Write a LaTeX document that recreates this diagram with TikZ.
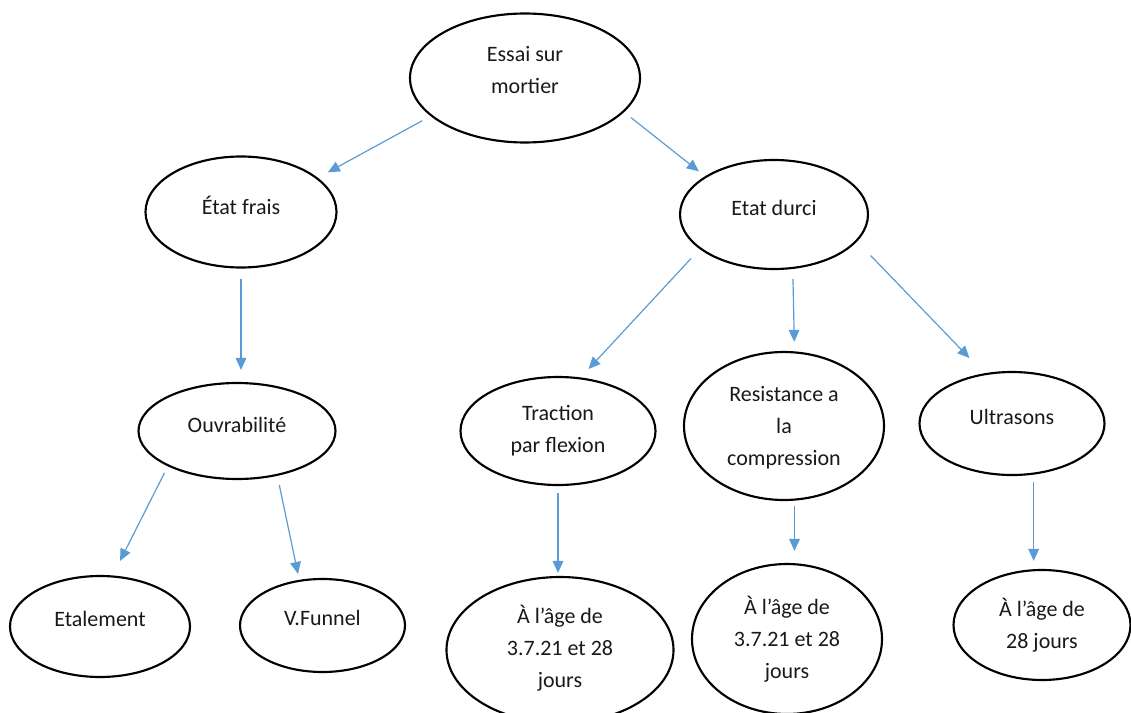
\documentclass[tikz,border=0pt]{standalone}
\usepackage{fontspec}
\setmainfont{Carlito}
\usepackage{tikz}
\usetikzlibrary{shapes, arrows.meta}
\definecolor{colorarrow}{HTML}{5B9BD5}
\tikzstyle{oval}=[draw, ellipse, line width=1.6pt, inner sep=0pt]
\tikzstyle{txt}=[font=\fontsize{16.5}{24}\selectfont, align=center, text=black!90]
\tikzstyle{link}=[-{Triangle[length=9pt, width=8pt]}, draw=colorarrow, line width=0.9pt]

\begin{document}
\begin{tikzpicture}[x=0.75pt, y=-0.75pt]
\useasboundingbox (0,0) rectangle (1131,713);

% root and the two states
\node[oval, minimum width=172.5pt, minimum height=96.75pt, label={[txt, yshift=6pt]center:Essai sur\\mortier}](essai) at (525,78){};
\node[oval, minimum width=143.25pt, minimum height=83.25pt, label={[txt, yshift=5pt]center:État frais}](frais) at (241,212){};
\node[oval, minimum width=141pt, minimum height=81.75pt, label={[txt, yshift=5pt]center:Etat durci}](durci) at (774,214.5){};

% fresh mortar
\node[oval, minimum width=147.75pt, minimum height=72pt, label={[txt, yshift=4.5pt]center:Ouvrabilité}](ouvr) at (237,431){};
\node[oval, minimum width=135pt, minimum height=75.75pt, label={[txt, yshift=6pt]center:Etalement}](etal) at (100,626.5){};
\node[oval, minimum width=123.75pt, minimum height=69.75pt, label={[txt, yshift=6pt]center:V.Funnel}](funnel) at (322.5,625.5){};

% hardened mortar
\node[oval, minimum width=146.25pt, minimum height=81pt, label={[txt, yshift=0pt]center:Traction\\par flexion}](traction) at (558,431){};
\node[oval, minimum width=150pt, minimum height=111pt, label={[txt, yshift=-1pt]center:Resistance a\\la\\compression}](resist) at (784,426){};
\node[oval, minimum width=138.75pt, minimum height=77.25pt, label={[txt, yshift=5pt]center:Ultrasons}](ultra) at (1012,423.5){};

\node[oval, minimum width=170.25pt, minimum height=109.5pt, label={[txt, yshift=1pt]center:À l’âge de\\3.7.21 et 28\\jours}](age1) at (560,650){};
\node[oval, minimum width=142.5pt, minimum height=112.5pt, label={[txt]center:À l’âge de\\3.7.21 et 28\\jours}](age2) at (787,639){};
\node[oval, minimum width=132.75pt, minimum height=82.5pt, label={[txt]center:À l’âge de\\28 jours}](age3) at (1042,625){};

\draw[link, shorten <=7.2pt, shorten >=8.5pt] (essai.202) -- (frais.24);
\draw[link, shorten <=6.6pt, shorten >=5.9pt] (essai.341) -- (durci.151);
\draw[link, shorten <=7.5pt, shorten >=9pt] (frais.south) -- (frais.south |- ouvr.north);
\draw[link, shorten <=5.5pt, shorten >=12.2pt] (ouvr.207) -- (etal.76);
\draw[link, shorten <=7pt, shorten >=4.5pt] (ouvr.-48) -- (funnel.117);

\draw[link, shorten <=9.5pt, shorten >=8.6pt] (durci.205) -- (traction.67);
\draw[link, shorten <=7.5pt, shorten >=7.1pt] (durci.-71) -- (resist.82);
\draw[link, shorten <=14.6pt, shorten >=15.9pt] (durci.-18) -- (ultra.119);

\draw[link, shorten <=5.25pt, shorten >=2.25pt] (traction.south) -- (traction.south |- age1.north);
\draw[link, shorten <=3.75pt, shorten >=9pt] (resist.-82) -- (resist.-82 |- age2.north);
\draw[link, shorten <=5.25pt, shorten >=6pt] (ultra.-67) -- (ultra.-67 |- age3.north);

\end{tikzpicture}
\end{document}
